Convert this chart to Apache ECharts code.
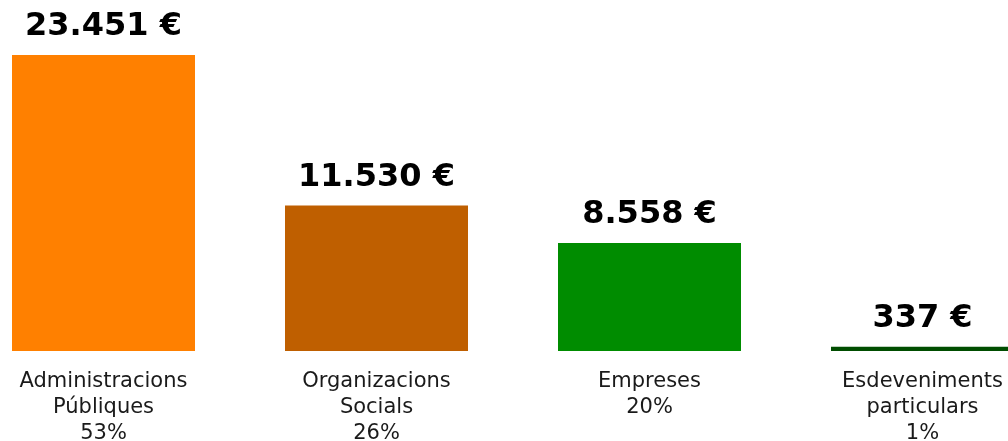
<!DOCTYPE html>
<html>
<head>
<meta charset="utf-8">
<script src="https://cdn.jsdelivr.net/npm/echarts@6/dist/echarts.min.js"></script>
<style>
  html, body { margin: 0; padding: 0; background: #fff; overflow: hidden; }
  /* el gràfic és més ample que la finestra: la primera i l'última columna queden retallades */
  #chart { width: 1092px; height: 441px; margin-left: -33px; }
</style>
</head>
<body>
<div id="chart"></div>
<script>
// dades
var categories = ['Administracions\nPúbliques', 'Organizacions\nSocials', 'Empreses', 'Esdeveniments\nparticulars'];
var amounts = [23451, 11530, 8558, 337];
var amountLabels = ['23.451 €', '11.530 €', '8.558 €', '337 €'];
var percents = ['53%', '26%', '20%', '1%'];
var colors = ['#ff8000', '#bf5f00', '#008c00', '#004d00'];

var chart = echarts.init(document.getElementById('chart'));

var option = {
    animation: false,
    grid: {
        left: 0,
        right: 0,
        top: 55,
        bottom: 90,
        outerBoundsMode: 'none',
    },
    xAxis: {
        type: 'category',
        data: categories.map(function (c, i) { return c + '\n' + percents[i]; }),
        axisLine: { show: false },
        axisTick: { show: false },
        axisLabel: {
            interval: 0,
            margin: 18,
            fontFamily: 'DejaVu Sans',
            fontSize: 21,
            lineHeight: 26,
            color: '#1a1a1a',
        },
    },
    yAxis: {
        type: 'value',
        min: 0,
        max: 'dataMax',
        show: false,
        splitLine: { show: false },
    },
    series: [
        {
            type: 'bar',
            barWidth: 183,
            data: amounts.map(function (v, i) {
                return { value: v, itemStyle: { color: colors[i] } };
            }),
            label: {
                show: true,
                position: 'top',
                distance: 12,
                fontFamily: 'DejaVu Sans',
                fontWeight: 'bold',
                fontSize: 32,
                color: '#000',
                formatter: function (p) { return amountLabels[p.dataIndex]; },
            },
        },
    ],
};

chart.setOption(option);
window.addEventListener('resize', chart.resize);
</script>
</body>
</html>
